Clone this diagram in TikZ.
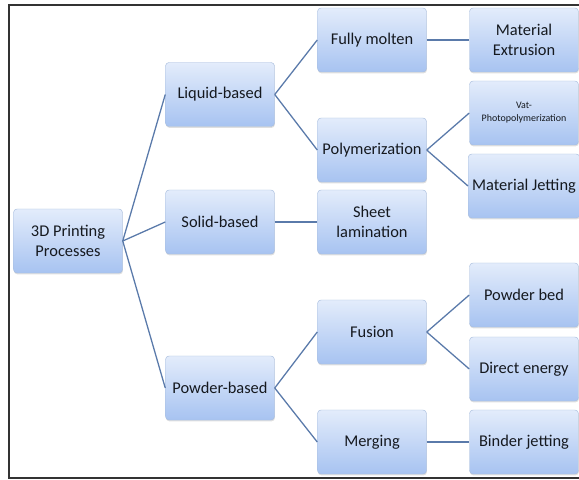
\documentclass[tikz,border=0pt]{standalone}
\usepackage{fontspec}
\setmainfont{Carlito}
\usetikzlibrary{shadows}

\tikzset{
  box/.style={draw=boxedge, rounded corners=3pt, top color=boxtop, bottom color=boxbottom,
    minimum width=3.27cm, minimum height=1.92cm, align=center, text=textcol,
    font=\fontsize{14}{16.5}\selectfont,
    drop shadow={opacity=0.25, shadow xshift=0.4pt, shadow yshift=-1.2pt}},
  link/.style={draw=linkcol, line width=1.1pt}
}
\definecolor{boxedge}{HTML}{A9BEDD}
\definecolor{boxtop}{HTML}{E3ECFB}
\definecolor{boxbottom}{HTML}{A7C3F1}
\definecolor{linkcol}{HTML}{5A7AAA}
\definecolor{textcol}{HTML}{15191F}

\begin{document}
\begin{tikzpicture}[x=0.03cm, y=-0.03cm]
        \useasboundingbox (0,0) rectangle (579,480);
        \draw[line width=1.4pt, draw=black!80] (579,5) -- (9,5) -- (9,478) -- (579,478);

        \draw (68,241) node [box] (root) {3D Printing\\Processes};
        \draw (220,94.5) node [box] (liquid) {Liquid-based};
        \draw (220,222) node [box] (solid) {Solid-based};
        \draw (220,388) node [box] (powder) {Powder-based};

        \draw (372,40) node [box] (molten) {Fully molten};
        \draw (372,150) node [box] (poly) {Polymerization};
        \draw (372,222) node [box] (sheet) {Sheet\\lamination};
        \draw (372,332) node [box] (fusion) {Fusion};
        \draw (372,442) node [box] (merging) {Merging};

        \draw (524,40) node [box] (extrusion) {Material\\Extrusion};
        \draw (524,113) node [box, font=\fontsize{8.5}{11}\selectfont] (vat) {Vat-\\Photopolymerization};
        \draw (524,186) node [box] (jetting) {Material Jetting};
        \draw (524,295) node [box] (bed) {Powder bed};
        \draw (524,369) node [box] (energy) {Direct energy};
        \draw (524,442) node [box] (binder) {Binder jetting};

        \draw[link] (root.east) -- (liquid.west);
        \draw[link] (root.east) -- (solid.west);
        \draw[link] (root.east) -- (powder.west);
        \draw[link] (liquid.east) -- (molten.west);
        \draw[link] (liquid.east) -- (poly.west);
        \draw[link] (solid.east) -- (sheet.west);
        \draw[link] (powder.east) -- (fusion.west);
        \draw[link] (powder.east) -- (merging.west);
        \draw[link] (molten.east) -- (extrusion.west);
        \draw[link] (poly.east) -- (vat.west);
        \draw[link] (poly.east) -- (jetting.west);
        \draw[link] (fusion.east) -- (bed.west);
        \draw[link] (fusion.east) -- (energy.west);
        \draw[link] (merging.east) -- (binder.west);
    \end{tikzpicture}
\end{document}
